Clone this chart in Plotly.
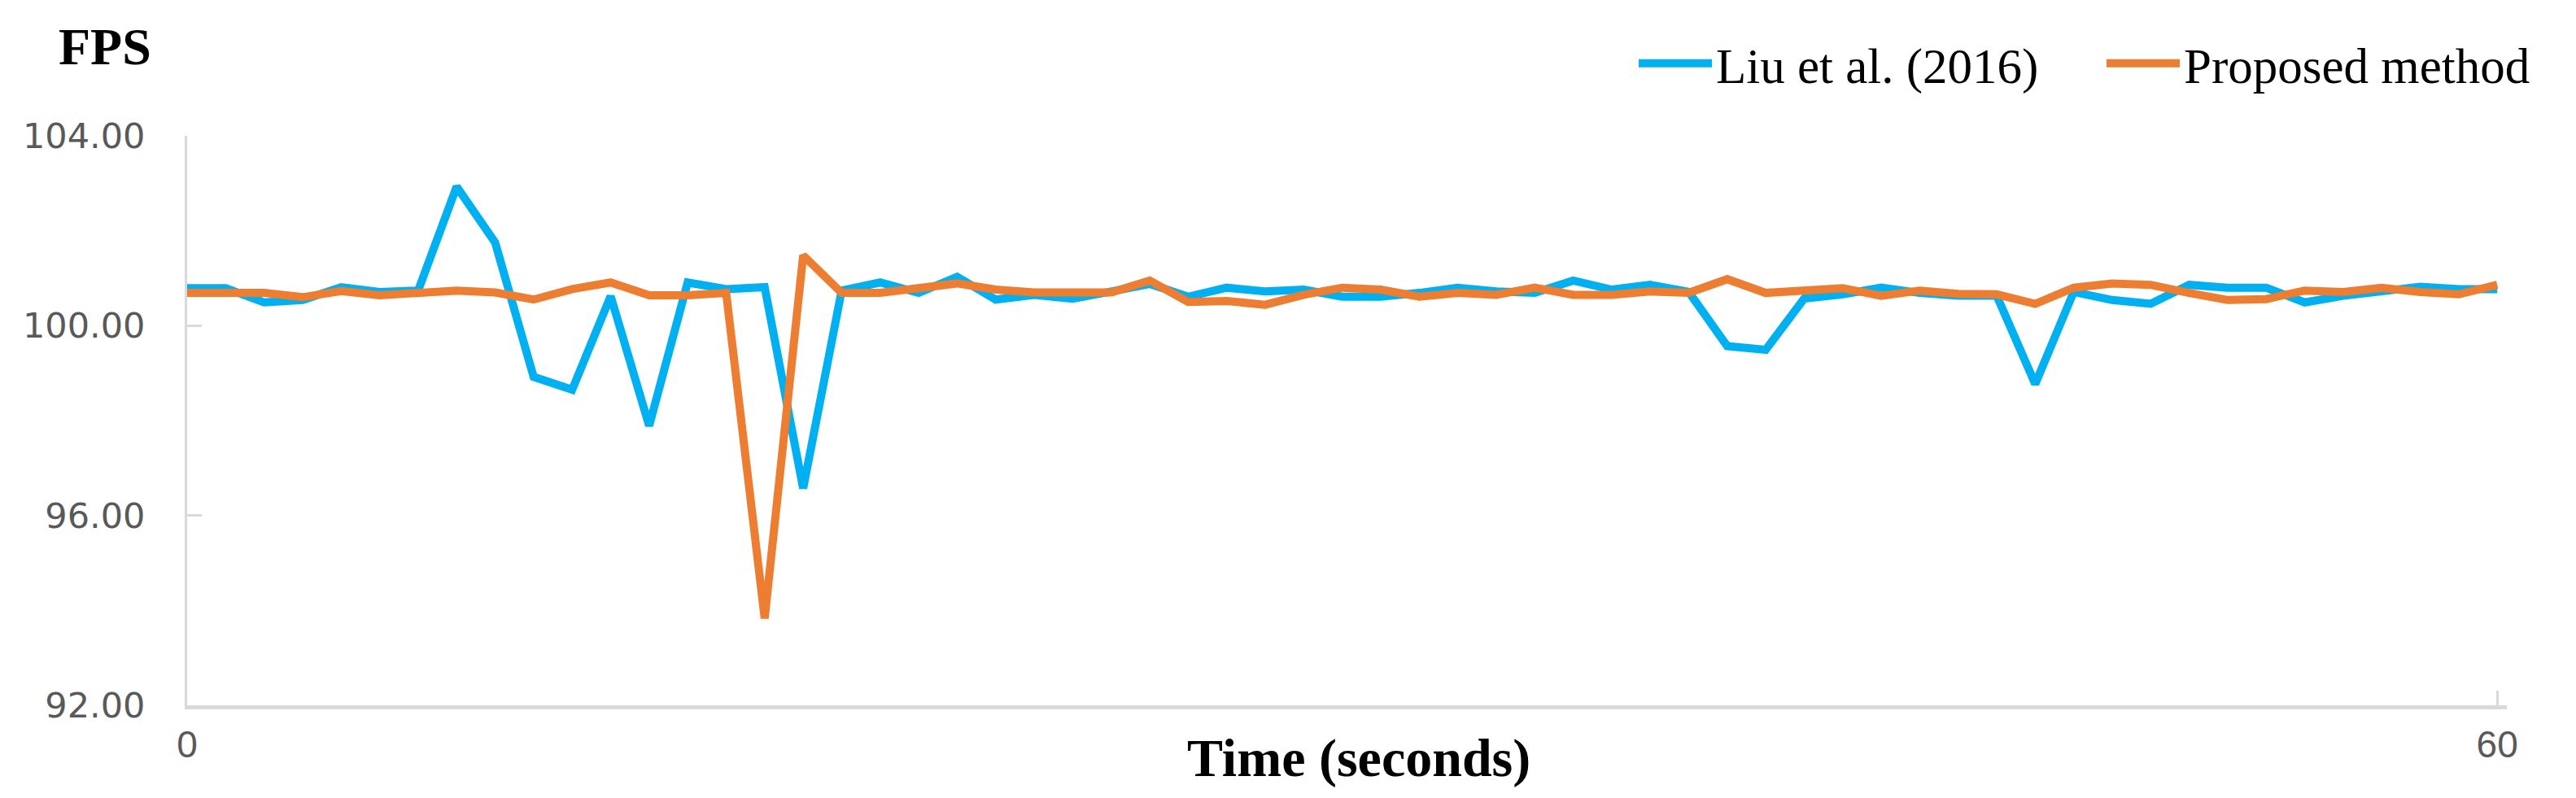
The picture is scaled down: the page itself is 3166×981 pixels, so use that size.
import plotly.graph_objects as go

time_s = list(range(0, 61))
liu_2016 = [
    100.79, 100.79, 100.49, 100.54, 100.81, 100.71, 100.74, 102.93, 101.75, 98.92, 98.65,
    100.62, 97.89, 100.91, 100.77, 100.81, 96.57, 100.74, 100.91, 100.69, 101.03,
    100.55, 100.65, 100.57, 100.72, 100.88, 100.61, 100.80, 100.72, 100.76, 100.61,
    100.61, 100.69, 100.80, 100.72, 100.69, 100.95, 100.76, 100.86, 100.71, 99.57,
    99.49, 100.57, 100.66, 100.80, 100.69, 100.63, 100.63, 98.77, 100.71, 100.54,
    100.46, 100.86, 100.80, 100.80, 100.49, 100.63, 100.71, 100.82, 100.77, 100.77,
]
proposed = [
    100.69, 100.70, 100.69, 100.60, 100.73, 100.64, 100.69, 100.74, 100.70, 100.55, 100.77,
    100.91, 100.64, 100.64, 100.69, 93.83, 101.48, 100.69, 100.69, 100.78, 100.89,
    100.76, 100.70, 100.70, 100.70, 100.95, 100.50, 100.52, 100.44, 100.65, 100.80,
    100.76, 100.61, 100.69, 100.65, 100.80, 100.65, 100.65, 100.72, 100.69, 100.98,
    100.69, 100.73, 100.79, 100.63, 100.74, 100.67, 100.66, 100.46, 100.80, 100.89,
    100.86, 100.69, 100.54, 100.56, 100.74, 100.71, 100.80, 100.71, 100.66, 100.86,
]
y_ticks = [92, 96, 100, 104]
x_ticks = [0, 60]

SERIF = "Liberation Serif, Times New Roman, serif"

fig = go.Figure()
fig.add_trace(go.Scatter(x=time_s, y=liu_2016, mode="lines", name="Liu et al. (2016)",
                         line=dict(color="#00B0F0", width=10)))
fig.add_trace(go.Scatter(x=time_s, y=proposed, mode="lines", name="Proposed method",
                         line=dict(color="#ED7D31", width=10)))

fig.update_layout(
    width=3166, height=981,
    margin=dict(l=222, r=93, t=159, b=122, autoexpand=False),
    paper_bgcolor="white", plot_bgcolor="white",
    showlegend=True,
    legend=dict(orientation="h", x=0.624, xanchor="left", y=1.127, yanchor="middle",
                font=dict(family=SERIF, size=61, color="black"),
                itemwidth=90, entrywidth=470, entrywidthmode="pixels",
                bgcolor="rgba(0,0,0,0)"),
    annotations=[
        dict(text="<b>FPS</b>", xref="paper", yref="paper", x=-0.056, y=1.157,
             xanchor="left", yanchor="middle", showarrow=False,
             font=dict(family=SERIF, size=64, color="black")),
        dict(text="<b>Time (seconds)</b>", xref="paper", yref="paper", x=0.505, y=-0.093,
             xanchor="center", yanchor="middle", showarrow=False,
             font=dict(family=SERIF, size=66, color="black")),
    ],
)
fig.update_xaxes(
    range=[0, 60.25], tickvals=x_ticks, ticktext=[str(v) for v in x_ticks],
    showgrid=False, zeroline=False,
    showline=True, linecolor="#D9D9D9", linewidth=5,
    ticks="inside", ticklen=18, tickcolor="#D9D9D9", tickwidth=3,
    tickfont=dict(family="Liberation Sans Narrow, Liberation Sans, Arial", size=46, color="#595959"),
    ticklabelstandoff=4,
)
fig.update_yaxes(
    range=[92, 104], tickvals=y_ticks, tickformat=".2f",
    showgrid=False, zeroline=False,
    showline=True, linecolor="#D9D9D9", linewidth=3,
    ticks="inside", ticklen=18, tickcolor="#D9D9D9", tickwidth=3,
    tickfont=dict(family="DejaVu Sans, Verdana, sans-serif", size=43, color="#595959"),
    ticklabelstandoff=40,
)

fig.write_html("out.html")
